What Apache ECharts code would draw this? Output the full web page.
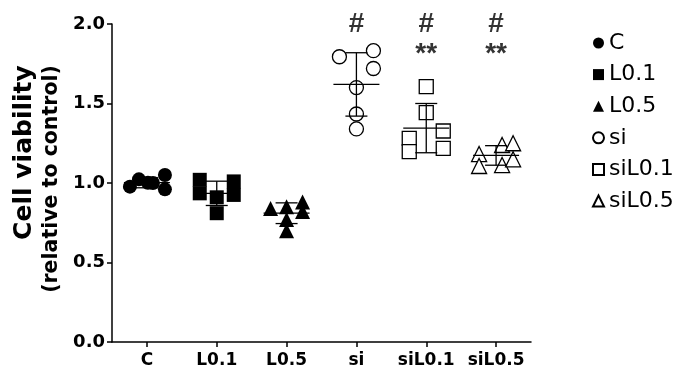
<!DOCTYPE html>
<html>
<head>
<meta charset="utf-8">
<script src="https://cdn.jsdelivr.net/npm/echarts@6/dist/echarts.min.js"></script>
<style>html,body{margin:0;padding:0;background:#fff;}#chart{width:686px;height:380px;}</style>
</head>
<body>
<div id="chart"></div>
<script>
const categories = ['C', 'L0.1', 'L0.5', 'si', 'siL0.1', 'siL0.5'];
const yTicks = [0.0, 0.5, 1.0, 1.5, 2.0];

const valuesC     = [0.977, 1.023, 1.002, 1.000, 1.050, 0.960];
const valuesL01   = [1.020, 0.935, 0.910, 0.810, 1.010, 0.925];
const valuesL05   = [0.840, 0.850, 0.770, 0.700, 0.880, 0.820];
const valuesSi    = [1.794, 1.832, 1.720, 1.600, 1.434, 1.340];
const valuesSiL01 = [1.606, 1.442, 1.327, 1.281, 1.197, 1.218];
const valuesSiL05 = [1.182, 1.107, 1.239, 1.113, 1.250, 1.149];

const annotHash = ['', '', '', '#', '#', '#'];
const annotStar = ['', '', '', '', '**', '**'];

// horizontal jitter (pixels) of each point within its column
const jitterC     = [-17, -8, 1, 6, 18, 18];
const jitterL01   = [-17, -17, 0, 0, 17, 17];
const jitterL05   = [-16, 0, 0, 0, 16, 16];
const jitterSi    = [-17, 17, 17, 0, 0, 0];
const jitterSiL01 = [0, 0, 17, -17, -17, 17];
const jitterSiL05 = [-17, -17, 6, 6, 17, 17];

const groups = [
  {name: 'C', vals: valuesC, jit: jitterC, symbol: 'circle', filled: true, size: 14},
  {name: 'L0.1', vals: valuesL01, jit: jitterL01, symbol: 'rect', filled: true, size: 14},
  {name: 'L0.5', vals: valuesL05, jit: jitterL05, symbol: 'triangle', filled: true, size: 15},
  {name: 'si', vals: valuesSi, jit: jitterSi, symbol: 'circle', filled: false, size: 14},
  {name: 'siL0.1', vals: valuesSiL01, jit: jitterSiL01, symbol: 'rect', filled: false, size: 14},
  {name: 'siL0.5', vals: valuesSiL05, jit: jitterSiL05, symbol: 'triangle', filled: false, size: 15}
];

function mean(a){return a.reduce((s,v)=>s+v,0)/a.length;}
function sd(a){const m=mean(a);return Math.sqrt(a.reduce((s,v)=>s+(v-m)*(v-m),0)/(a.length-1));}

const series = groups.map((g, gi) => ({
  name: g.name,
  type: 'scatter',
  symbol: g.symbol,
  symbolSize: g.size,
  z: 2,
  itemStyle: g.filled ? {color: '#000', opacity: 1} : {color: '#fff', borderColor: '#000', borderWidth: 1.3, opacity: 1},
  data: g.vals.map((v, i) => ({value: [gi, v], symbolOffset: [g.jit[i], 0]}))
}));

series.push({
  name: 'errbars',
  type: 'custom',
  z: 5,
  silent: true,
  data: groups.map((g, gi) => [gi, mean(g.vals), sd(g.vals)]),
  renderItem: function(params, api){
    const i = api.value(0), m = api.value(1), s = api.value(2);
    const pm = api.coord([i, m]);
    const pt = api.coord([i, m + s]);
    const pb = api.coord([i, m - s]);
    const st = {stroke: '#000', lineWidth: 1.3};
    return {type: 'group', children: [
      {type: 'line', shape: {x1: pm[0]-23, y1: pm[1], x2: pm[0]+23, y2: pm[1]}, style: st},
      {type: 'line', shape: {x1: pt[0], y1: pt[1], x2: pb[0], y2: pb[1]}, style: st},
      {type: 'line', shape: {x1: pt[0]-11, y1: pt[1], x2: pt[0]+11, y2: pt[1]}, style: st},
      {type: 'line', shape: {x1: pb[0]-11, y1: pb[1], x2: pb[0]+11, y2: pb[1]}, style: st}
    ]};
  }
});

series.push({
  name: 'hash', type: 'scatter', symbolSize: 0, silent: true, z: 6,
  data: annotHash.map((t, i) => t ? {value: [i, 2.0], label: {formatter: t}} : null).filter(Boolean),
  label: {show: true, position: 'inside', color: '#000', fontFamily: 'Liberation Sans', fontSize: 28, fontWeight: 'bold'}
});
series.push({
  name: 'star', type: 'scatter', symbolSize: 0, silent: true, z: 6,
  data: annotStar.map((t, i) => t ? {value: [i, 1.81], label: {formatter: t}} : null).filter(Boolean),
  label: {show: true, position: 'inside', color: '#000', fontFamily: 'Liberation Sans', fontSize: 28, fontWeight: 'bold'}
});

const chart = echarts.init(document.getElementById('chart'), null, {renderer: 'canvas'});
chart.setOption({
  animation: false,
  backgroundColor: '#fff',
  grid: {left: 112, right: 155, top: 24, bottom: 38, containLabel: false, outerBoundsMode: 'none'},
  legend: {
    data: categories,
    orient: 'vertical',
    left: 587, top: 27,
    itemWidth: 11, itemHeight: 11, itemGap: 9.6,
    textStyle: {fontFamily: 'DejaVu Sans', fontSize: 22, lineHeight: 22, color: '#000'}
  },
  xAxis: {
    type: 'category',
    data: categories,
    boundaryGap: true,
    axisLine: {lineStyle: {color: '#000', width: 1.5}},
    axisTick: {show: true, alignWithLabel: true, length: 5, lineStyle: {color: '#000', width: 1.5}},
    axisLabel: {interval: 0, color: '#000', fontFamily: 'DejaVu Sans', fontWeight: 'bold', fontSize: 17, margin: 10}
  },
  yAxis: {
    type: 'value',
    min: 0, max: 2, interval: 0.5,
    splitLine: {show: false},
    axisLine: {show: true, lineStyle: {color: '#000', width: 1.5}},
    axisTick: {show: true, length: 5, lineStyle: {color: '#000', width: 1.5}},
    axisLabel: {color: '#000', fontFamily: 'DejaVu Sans', fontWeight: 'bold', fontSize: 18, margin: 7,
      formatter: v => { const t = yTicks.find(x => Math.abs(x - v) < 1e-9); return (t !== undefined ? t : v).toFixed(1); }},
    name: '{a|Cell viability}\n{b|(relative to control)}',
    nameLocation: 'middle',
    nameRotate: 90,
    nameGap: 46,
    nameTextStyle: {color: '#000', padding: [0, 0, 0, 8], rich: {
      a: {fontFamily: 'DejaVu Sans', fontWeight: 'bold', fontSize: 25, lineHeight: 27, color: '#000', align: 'right'},
      b: {fontFamily: 'DejaVu Sans', fontWeight: 'bold', fontSize: 20.5, lineHeight: 27, color: '#000', align: 'right'}
    }}
  },
  series: series
});
</script>
</body>
</html>
